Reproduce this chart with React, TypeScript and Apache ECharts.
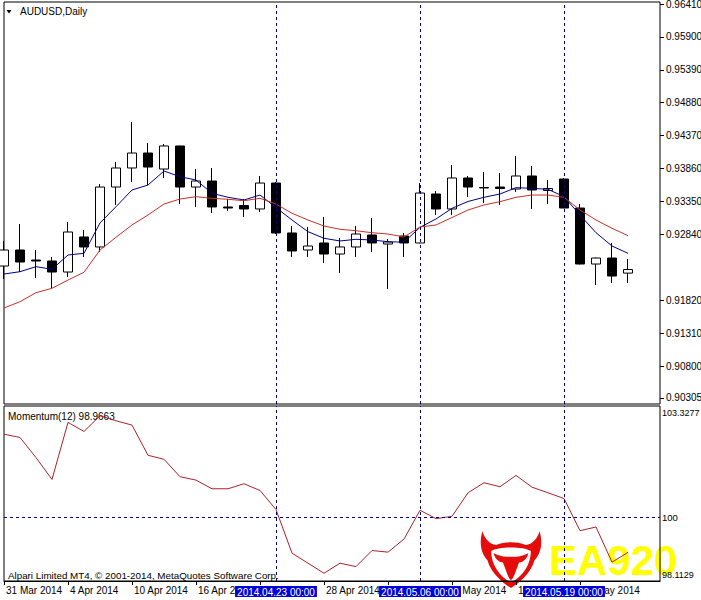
import React, { useEffect, useRef } from "react";
import * as echarts from "echarts";

const FONT = 'Tahoma, "Liberation Sans", Arial, sans-serif';

const dates = [
  "2014.03.31", "2014.04.01", "2014.04.02", "2014.04.03", "2014.04.04",
  "2014.04.07", "2014.04.08", "2014.04.09", "2014.04.10", "2014.04.11",
  "2014.04.14", "2014.04.15", "2014.04.16", "2014.04.17", "2014.04.18",
  "2014.04.21", "2014.04.22", "2014.04.23", "2014.04.24", "2014.04.25",
  "2014.04.28", "2014.04.29", "2014.04.30", "2014.05.01", "2014.05.02",
  "2014.05.05", "2014.05.06", "2014.05.07", "2014.05.08", "2014.05.09",
  "2014.05.12", "2014.05.13", "2014.05.14", "2014.05.15", "2014.05.16",
  "2014.05.19", "2014.05.20", "2014.05.21", "2014.05.22", "2014.05.23",
];
// empty slots on the right (chart shift)
const emptySlots = [" ", "  "];

const opens = [
  0.9235, 0.92598, 0.92443, 0.92428, 0.92257, 0.928, 0.92645, 0.93574, 0.93869, 0.94101,
  0.93853, 0.9421, 0.93574, 0.93667, 0.93265, 0.93288, 0.93234, 0.93636, 0.92862, 0.92598,
  0.92707, 0.92536, 0.92645, 0.92831, 0.92691, 0.92815, 0.92707, 0.93466, 0.93234, 0.93714,
  0.93567, 0.93574, 0.93543, 0.93745, 0.9352, 0.93698, 0.93249, 0.92381, 0.92474, 0.9224,
];
const closes = [
  0.92598, 0.92412, 0.92428, 0.92257, 0.92877, 0.92645, 0.93574, 0.93869, 0.94101, 0.93884,
  0.9421, 0.93574, 0.93667, 0.93265, 0.93249, 0.93234, 0.93636, 0.92862, 0.92583, 0.9266,
  0.92536, 0.92645, 0.92846, 0.92707, 0.92722, 0.92707, 0.93481, 0.93234, 0.93714, 0.93574,
  0.93559, 0.93551, 0.93745, 0.93528, 0.93551, 0.93249, 0.92381, 0.92474, 0.92195, 0.92296,
];
const lows = [
  0.92149, 0.92257, 0.92164, 0.92009, 0.9218, 0.9249, 0.92567, 0.93296, 0.93652, 0.93605,
  0.93714, 0.93311, 0.93265, 0.93172, 0.93203, 0.9311, 0.93187, 0.92846, 0.9249, 0.9249,
  0.92397, 0.92242, 0.9249, 0.92567, 0.91994, 0.9249, 0.927, 0.93141, 0.93141, 0.9342,
  0.93327, 0.93296, 0.93497, 0.93234, 0.93311, 0.93245, 0.92375, 0.92056, 0.92087, 0.92087,
];
const highs = [
  0.92738, 0.93001, 0.92598, 0.9249, 0.93032, 0.92908, 0.93621, 0.93962, 0.94582, 0.94256,
  0.94241, 0.94215, 0.93853, 0.93869, 0.93388, 0.93388, 0.93745, 0.93652, 0.9297, 0.92955,
  0.9311, 0.92784, 0.9297, 0.93094, 0.92769, 0.92862, 0.93636, 0.93512, 0.93915, 0.93745,
  0.93807, 0.93791, 0.94055, 0.939, 0.93683, 0.93714, 0.93311, 0.9248, 0.92707, 0.92459,
];
const maFast = [
  0.92226, 0.92262, 0.9234, 0.92299, 0.92521, 0.92547, 0.93017, 0.93269, 0.93528, 0.93605,
  0.93822, 0.93734, 0.93683, 0.93477, 0.93415, 0.93373, 0.9345, 0.93257, 0.93063, 0.92882,
  0.9278, 0.92738, 0.92764, 0.92753, 0.92727, 0.92719, 0.9295, 0.93079, 0.93244, 0.9335,
  0.93415, 0.93466, 0.93564, 0.93554, 0.93539, 0.93424, 0.93141, 0.92866, 0.9266, 0.92547,
];
const maSlow = [
  0.917, 0.91797, 0.91937, 0.92005, 0.92133, 0.92253, 0.92598, 0.92795, 0.92986, 0.93141,
  0.93311, 0.93388, 0.93424, 0.93399, 0.93384, 0.93362, 0.93399, 0.93311, 0.93167, 0.93063,
  0.9297, 0.92919, 0.92897, 0.92866, 0.92846, 0.928, 0.92955, 0.92986, 0.93102, 0.93218,
  0.93296, 0.93347, 0.93415, 0.9345, 0.9345, 0.93415, 0.93218, 0.93063, 0.92935, 0.9282,
];
const momentum = [
  102.4885, 102.3896, 101.7902, 101.1399, 102.8392, 102.5695, 103.037, 102.8871, 102.7583, 101.8592,
  101.7393, 101.2208, 101.1189, 100.8612, 100.8612, 101.011, 100.8102, 100.2408, 98.9431, 98.6434,
  98.3437, 98.6434, 98.5415, 99.021, 98.9731, 99.3627, 100.2198, 99.9711, 100.04, 100.7413,
  101.041, 100.9211, 101.2598, 100.9091, 100.7413, 100.5705, 99.6114, 99.7223, 98.6734, 98.9663,
];

const priceTicks = [
  0.9641, 0.959, 0.9539, 0.9488, 0.9437, 0.9386, 0.9335, 0.9284, 0.9182, 0.9131, 0.908, 0.90305,
];
const priceMin = 0.90212;
const priceMax = 0.96441;
const currentPrice = 0.92296;

const momTicks = [98.1129, 100, 103.3277];
const momMin = 98.1129;
const momMax = 103.3277;
const momLevel = 100;

const markedDates = ["2014.04.23", "2014.05.06", "2014.05.19"];
const monthNames = ["Jan", "Feb", "Mar", "Apr", "May", "Jun", "Jul", "Aug", "Sep", "Oct", "Nov", "Dec"];

const categories = [...dates, ...emptySlots];

function dateLabel(s: string) {
  const p = s.split(".");
  if (p.length !== 3) return "";
  return `${parseInt(p[2], 10)} ${monthNames[parseInt(p[1], 10) - 1]} ${p[0]}`;
}

// watermark shapes
echarts.graphic.registerShape(
  "bullOuter",
  echarts.graphic.extendPath(
    "M4 2C-2 22 2 42 12 52C18 75 38 92 50 100C62 92 82 75 88 52C98 42 102 22 96 2C92 16 84 24 74 26C66 22 58 21 50 21C42 21 34 22 26 26C16 24 8 16 4 2Z",
    {}
  )
);
echarts.graphic.registerShape(
  "bullInner",
  echarts.graphic.extendPath("M18 36C30 28 70 28 82 36C82 62 66 82 50 90C34 82 18 62 18 36Z", {})
);
echarts.graphic.registerShape(
  "bullHead",
  echarts.graphic.extendPath(
    "M22 40C30 44 36 46 42 46L58 46C64 46 70 44 78 40C76 50 70 55 63 56L56 76C54 82 52 85 50 86C48 85 46 82 44 76L37 56C30 55 24 50 22 40Z",
    {}
  )
);

export default function App() {
  const ref = useRef<HTMLDivElement>(null);
  useEffect(() => {
    const chart = echarts.init(ref.current!, null, { renderer: "svg" });
    const candleData = dates.map((_, i) => [opens[i], closes[i], lows[i], highs[i]]);
    const tickEvery = (i: number) => i % 4 === 0 && i < dates.length;

    const option: any = {
      animation: false,
      backgroundColor: "#ffffff",
      textStyle: { fontFamily: FONT },
      grid: [
        {
          left: 4, top: 2, width: 656, height: 402, show: true, borderColor: "#000", borderWidth: 1,
          backgroundColor: "transparent", containLabel: false, outerBoundsMode: "none",
        },
        {
          left: 4, top: 406, width: 656, height: 175, show: true, borderColor: "#000", borderWidth: 1,
          backgroundColor: "transparent", containLabel: false, outerBoundsMode: "none",
        },
      ],
      xAxis: [
        {
          type: "category", gridIndex: 0, data: categories, boundaryGap: false,
          axisLine: { show: false }, axisTick: { show: false }, axisLabel: { show: false }, splitLine: { show: false },
        },
        {
          type: "category", gridIndex: 1, data: categories, boundaryGap: false,
          axisLine: { show: true, lineStyle: { color: "#000", width: 1 } },
          axisTick: { show: true, interval: (i: number) => tickEvery(i), length: 4, lineStyle: { color: "#000" } },
          axisLabel: {
            show: true, interval: (i: number) => tickEvery(i), formatter: (v: string) => dateLabel(v),
            align: "left", margin: 4, padding: [0, 0, 0, 2], color: "#000", fontSize: 10, fontFamily: FONT,
          },
          splitLine: { show: false },
        },
      ],
      yAxis: [
        {
          type: "value", gridIndex: 0, position: "right", min: priceMin, max: priceMax, scale: true,
          axisLine: { show: false },
          axisTick: { show: true, customValues: priceTicks, length: 4, lineStyle: { color: "#000" } },
          axisLabel: {
            show: true, customValues: priceTicks, formatter: (v: number) => v.toFixed(5),
            margin: 6, color: "#000", fontSize: 10, fontFamily: FONT,
          },
          splitLine: { show: false },
        },
        {
          type: "value", gridIndex: 1, position: "right", min: momMin, max: momMax, scale: true,
          axisLine: { show: false },
          axisTick: { show: false },
          axisLabel: {
            show: true, customValues: momTicks, margin: 2, color: "#000", fontSize: 9, fontFamily: FONT,
            formatter: (v: number) => {
              if (v > 103) return `{t|${v.toFixed(4)}}`;
              if (v < 99) return `{b|${v.toFixed(4)}}`;
              return `{m|${v.toFixed(0)}}`;
            },
            rich: {
              t: { padding: [14, 0, 0, 0], fontSize: 9, color: "#000", fontFamily: FONT },
              b: { padding: [0, 0, 12, 0], fontSize: 9, color: "#000", fontFamily: FONT },
              m: { fontSize: 9.5, color: "#000", fontFamily: FONT },
            },
          },
          splitLine: { show: false },
        },
      ],
      series: [
        {
          type: "candlestick", name: "AUDUSD", xAxisIndex: 0, yAxisIndex: 0, data: candleData,
          barWidth: 10, clip: true, z: 3,
          itemStyle: {
            color: "#ffffff", color0: "#000000", borderColor: "#000000", borderColor0: "#000000",
            borderColorDoji: "#000000", borderWidth: 1,
          },
          markLine: {
            silent: true, symbol: ["none", "none"], animation: false,
            lineStyle: { color: "#000080", type: [3, 3], width: 1 },
            label: { show: false },
            data: [
              ...markedDates.map((d) => ({ xAxis: d })),
              {
                yAxis: currentPrice,
                lineStyle: { opacity: 0 },
                label: {
                  show: true, position: "end", distance: 1, formatter: currentPrice.toFixed(5),
                  backgroundColor: "#000", color: "#fff", padding: [2, 3, 1, 3], fontSize: 10, fontFamily: FONT,
                },
              },
            ],
          },
        },
        {
          type: "line", name: "MA fast", xAxisIndex: 0, yAxisIndex: 0, data: maFast, showSymbol: false, z: 4,
          lineStyle: { color: "#00007f", width: 1 }, itemStyle: { color: "#00007f" },
        },
        {
          type: "line", name: "MA slow", xAxisIndex: 0, yAxisIndex: 0, data: maSlow, showSymbol: false, z: 4,
          lineStyle: { color: "#c4302b", width: 1 }, itemStyle: { color: "#c4302b" },
        },
        {
          type: "line", name: "Momentum(12)", xAxisIndex: 1, yAxisIndex: 1, data: momentum, showSymbol: false, z: 4,
          lineStyle: { color: "#a8232b", width: 1 }, itemStyle: { color: "#a8232b" },
          markLine: {
            silent: true, symbol: ["none", "none"], animation: false, z: 10,
            lineStyle: { color: "#000080", type: [3, 3], width: 1 },
            data: [
              ...markedDates.map((d) => ({
                xAxis: d,
                name: `${d} 00:00`,
                label: {
                  show: true, position: "start", distance: 5, formatter: "{b}",
                  backgroundColor: "#0000d8", color: "#fff", padding: [1, 2, 0, 2], fontSize: 10, fontFamily: FONT,
                },
              })),
              { yAxis: momLevel, label: { show: false } },
            ],
          },
        },
      ],
      graphic: [
        { type: "polygon", shape: { points: [[6.5, 10], [11.5, 10], [9, 13.5]] }, style: { fill: "#000" } },
        { type: "text", x: 20, y: 11, style: { text: "AUDUSD,Daily", fill: "#000", font: `10px ${FONT}`, verticalAlign: "middle" } },
        { type: "text", x: 8, y: 416, style: { text: "Momentum(12) 98.9663", fill: "#000", font: `10px ${FONT}`, verticalAlign: "middle" } },
        {
          type: "text", x: 8, y: 575,
          style: { text: "Alpari Limited MT4, \u00a9 2001-2014, MetaQuotes Software Corp.", fill: "#000", font: `9.8px ${FONT}`, verticalAlign: "middle" },
        },
        { type: "text", x: 549, y: 560, z: -1, style: { text: "EA920", fill: "#ffff00", font: `bold 42px "Liberation Sans", Arial, sans-serif`, verticalAlign: "middle" } },
        { type: "bullOuter", x: 480, y: 530, scaleX: 0.62, scaleY: 0.58, z: -1, style: { fill: "#e60c0c" } },
        { type: "bullInner", x: 480, y: 530, scaleX: 0.62, scaleY: 0.58, z: -1, style: { fill: "#ffffff" } },
        { type: "bullHead", x: 480, y: 530, scaleX: 0.62, scaleY: 0.58, z: -1, style: { fill: "#e60c0c" } },
      ],
    };
    chart.setOption(option);
    return () => chart.dispose();
  }, []);
  return (
    <div
      ref={ref}
      style={{ position: "fixed", left: 0, top: 0, width: 701, height: 600, background: "#fff" }}
    />
  );
}
